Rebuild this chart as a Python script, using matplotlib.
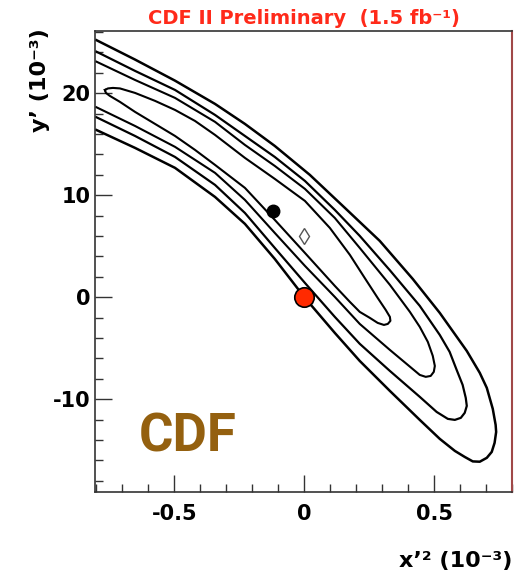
import matplotlib
matplotlib.use("Agg")
import matplotlib.pyplot as plt
from matplotlib.ticker import FixedLocator, MultipleLocator

# ---- text ----
title = "CDF II Preliminary  (1.5 fb⁻¹)"
xlabel = "x’² (10⁻³)"
ylabel = "y’ (10⁻³)"
logo = "CDF"
xticks = [-0.5, 0.0, 0.5]
xticklabels = ["-0.5", "0", "0.5"]
yticks = [-10, 0, 10, 20]
yticklabels = ["-10", "0", "10", "20"]

# ---- contour lines (x'^2, y') ----
c1_x = [-0.767, -0.755, -0.736, -0.709, -0.651, -0.574, -0.497, -0.420, -0.343, -0.228,
        -0.113, 0.003, 0.099, 0.176, 0.233, 0.283, 0.314, 0.330, 0.332, 0.322, 0.307,
        0.283, 0.253, 0.214, 0.176, 0.118, 0.003, -0.113, -0.228, -0.343, -0.420,
        -0.497, -0.574, -0.651, -0.709, -0.748, -0.763, -0.767]
c1_y = [20.32, 20.47, 20.52, 20.47, 20.03, 19.25, 18.36, 17.28, 15.91, 13.66,
        11.60, 9.44, 6.79, 4.15, 1.89, -0.07, -1.25, -1.93, -2.32, -2.62, -2.72,
        -2.52, -2.03, -1.44, -0.46, 1.11, 4.34, 7.58, 10.72, 12.97, 14.44,
        15.81, 16.99, 18.17, 19.15, 19.74, 20.03, 20.32]

c2_x = [-0.80, -0.651, -0.497, -0.343, -0.228, -0.113, 0.003, 0.118, 0.214, 0.330,
        0.407, 0.445, 0.476, 0.495, 0.503, 0.499, 0.487, 0.468, 0.445, 0.330, 0.214,
        0.118, 0.003, -0.113, -0.228, -0.343, -0.497, -0.651, -0.80]
c2_y = [23.10, 21.30, 19.54, 17.19, 14.93, 12.87, 10.62, 7.77, 4.83, 1.21,
        -1.44, -2.91, -4.38, -5.75, -6.74, -7.32, -7.72, -7.81, -7.62, -5.17, -2.62,
        0.03, 3.07, 6.30, 9.54, 12.19, 14.74, 16.79, 18.63]

c3_x = [-0.80, -0.651, -0.497, -0.343, -0.228, -0.113, 0.003, 0.118, 0.214, 0.330,
        0.445, 0.522, 0.560, 0.587, 0.610, 0.622, 0.626, 0.618, 0.603, 0.580, 0.553,
        0.510, 0.445, 0.330, 0.214, 0.118, 0.003, -0.113, -0.228, -0.343, -0.497,
        -0.651, -0.80]
c3_y = [24.08, 22.19, 20.32, 17.87, 15.81, 13.75, 11.40, 8.56, 6.01, 2.64,
        -0.85, -3.70, -5.36, -7.13, -8.60, -9.87, -10.66, -11.34, -11.83, -12.03, -11.93,
        -11.25, -9.77, -7.23, -4.57, -1.93, 1.40, 4.83, 8.26, 11.01, 13.75,
        15.81, 17.65]

c4_x = [-0.80, -0.651, -0.497, -0.343, -0.228, -0.113, 0.022, 0.157, 0.291, 0.418,
        0.522, 0.626, 0.676, 0.703, 0.726, 0.737, 0.739, 0.733, 0.722, 0.703, 0.676,
        0.649, 0.618, 0.580, 0.522, 0.445, 0.330, 0.214, 0.118, 0.003, -0.113,
        -0.228, -0.343, -0.497, -0.651, -0.80]
c4_y = [25.21, 23.30, 21.23, 18.95, 16.99, 14.83, 11.99, 8.75, 5.52, 1.79,
        -1.54, -5.27, -7.42, -8.89, -10.95, -12.52, -13.21, -14.28, -15.17, -15.75, -16.13,
        -16.10, -15.66, -15.07, -13.89, -12.03, -9.19, -6.25, -3.50, -0.07, 3.75,
        7.19, 9.83, 12.68, 14.64, 16.40]

# ---- points ----
best_x, best_y = [-0.12], [8.5]          # black dot
phys_x, phys_y = [0.0], [6.0]            # open diamond
nomix_x, nomix_y = [0.0], [0.0]          # red circle

plt.rcParams["font.family"] = ["DejaVu Sans"]
plt.rcParams["font.weight"] = "bold"

fig = plt.figure(figsize=(5.2, 5.84), dpi=100)
ax = fig.add_axes([95 / 520, 1 - 492 / 584, (512 - 95) / 520, (492 - 31) / 584])

for cx, cy, lw in [(c1_x, c1_y, 1.5), (c2_x, c2_y, 1.5), (c3_x, c3_y, 1.6), (c4_x, c4_y, 1.8)]:
    ax.plot(cx, cy, color="black", lw=lw, solid_joinstyle="round", zorder=2)

ax.plot(best_x, best_y, "o", color="black", ms=9, zorder=3)
ax.plot(phys_x, phys_y, "d", mfc="white", mec="#555555", mew=1.0, ms=8, zorder=3)
ax.plot(nomix_x, nomix_y, "o", mfc="#ff2a00", mec="black", mew=1.2, ms=14, zorder=4)

ax.set_xlim(-0.805, 0.80)
ax.set_ylim(-19.1, 26.1)

ax.xaxis.set_major_locator(FixedLocator(xticks))
ax.set_xticklabels(xticklabels)
ax.yaxis.set_major_locator(FixedLocator(yticks))
ax.set_yticklabels(yticklabels)
ax.xaxis.set_minor_locator(MultipleLocator(0.1))
ax.yaxis.set_minor_locator(MultipleLocator(2))
ax.tick_params(which="both", direction="in", top=False, right=False, color="#333333")
ax.tick_params(which="major", length=12, width=1.0, labelsize=15)
ax.tick_params(which="minor", length=6, width=1.0)
ax.tick_params(axis="x", which="major", pad=9)
ax.tick_params(axis="y", which="major", pad=3)

for side in ["left", "bottom", "top"]:
    ax.spines[side].set_color("#333333")
    ax.spines[side].set_linewidth(1.2)
ax.spines["right"].set_color("#a04848")
ax.spines["right"].set_linewidth(1.5)

ax.set_title(title, color="#ff2a1a", fontsize=14, fontweight="bold", pad=5)

ax.set_xlabel(xlabel, fontsize=16, fontweight="bold", loc="right")
ax.xaxis.set_label_coords(1.0, -0.128)
ax.set_ylabel(ylabel, fontsize=16, fontweight="bold", loc="top")
ax.yaxis.set_label_coords(-0.108, 1.007)

ax.text(0.1055, 0.087, logo, transform=ax.transAxes, fontsize=38, family="Roboto",
        fontweight="bold", color="#94600f", ha="left", va="baseline")

fig.savefig("out.png", dpi=100)
